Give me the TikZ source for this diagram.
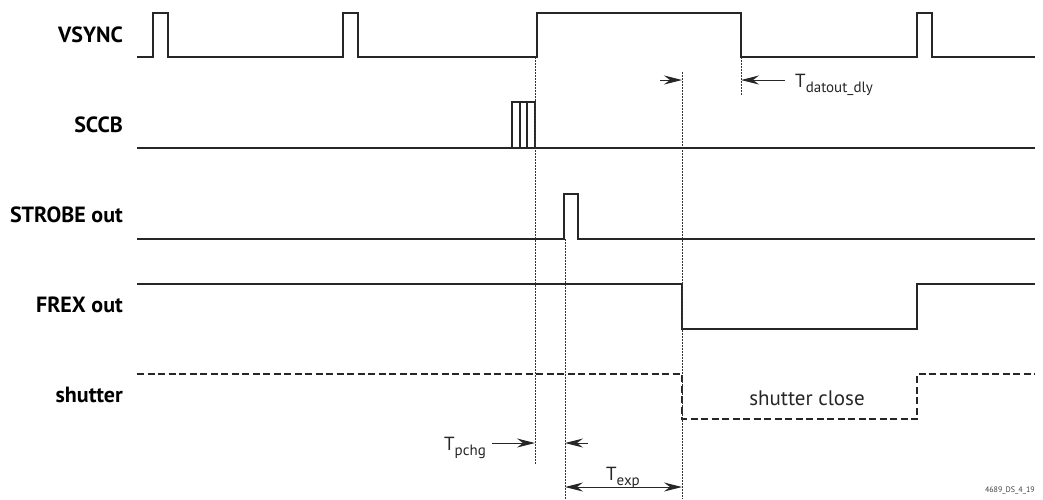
\documentclass[tikz,border=0pt]{standalone}
\usepackage{fontspec}
\setmainfont{PT Sans}
\usetikzlibrary{positioning,arrows.meta}
\newcommand\tsub[1]{\raisebox{-0.3em}{\fontsize{15}{15}\selectfont#1}}
\begin{document}
\begin{tikzpicture}[x=1pt,y=-1pt,
  lbl/.style={font=\fontsize{22}{24}\selectfont\bfseries,anchor=east,inner sep=0pt,text height=15pt,text depth=0pt},
  tlbl/.style={font=\fontsize{19}{21}\selectfont,inner sep=0pt,text=black!85},
  sig/.style={line width=1.6pt,black!85},
  guide/.style={line width=0.7pt,dash pattern=on 1.5pt off 1.5pt,black!80},
  tarr/.style={-{Stealth[length=18pt,width=9pt,inset=6pt]},line width=1pt,black!85},
  tarrs/.style={{Stealth[length=18pt,width=9pt,inset=6pt]}-{Stealth[length=18pt,width=9pt,inset=6pt]},line width=1pt,black!85}]
\useasboundingbox (0,0) rectangle (1043,499);

\node[lbl] at (123,35) (vsync) {VSYNC};
\node[lbl,below=90pt of vsync.east,anchor=east] (sccb) {SCCB};
\node[lbl,below=90pt of sccb.east,anchor=east] (strobe) {STROBE out};
\node[lbl,below=90pt of strobe.east,anchor=east] (frex) {FREX out};
\node[lbl,below=90pt of frex.east,anchor=east] (shutter) {shutter};

\draw[sig] (137,57) -- (153,57) -- (153,13) -- (168,13) -- (168,57) -- (343,57) -- (343,13) -- (358,13) -- (358,57)
  -- (537,57) -- (537,13) -- (741,13) -- (741,57) -- (917,57) -- (917,13) -- (932,13) -- (932,57) -- (1035,57);
\draw[sig] (137,148) -- (1035,148);
\draw[line width=1.2pt,black!85] (512,148) -- (512,102) -- (535,102) -- (535,148) (520,102) -- (520,148) (527,102) -- (527,148);
\draw[sig] (137,239) -- (564,239) -- (564,194) -- (578,194) -- (578,239) -- (1035,239);
\draw[sig] (137,284) -- (682,284) -- (682,329) -- (917,329) -- (917,284) -- (1035,284);
\draw[sig,dash pattern=on 7pt off 3.5pt] (137,374) -- (682,374) -- (682,419) -- (917,419) -- (917,374) -- (1035,374);

\node[tlbl,font=\fontsize{21}{23}\selectfont] (close) at (807,398) {shutter close};

\draw[guide] (535,57) -- (535,465);
\draw[guide] (565,239) -- (565,499);
\draw[guide] (682,72) -- (682,499);
\draw[guide] (741,57) -- (741,96);

\coordinate (dlyR) at (741,80);
\coordinate (expR) at (682,80);
\coordinate (pchgR) at (535,443);
\coordinate (strbL) at (565,443);
\node[tlbl,anchor=base west] (tdly) at (795,87) {T\tsub{datout\_dly}};
\node[tlbl,anchor=base east] (tpchg) at (486,450) {T\tsub{pchg}};
\node[tlbl,anchor=base] (texp) at (623,480) {T\tsub{exp}};
\coordinate (expA) at (565,487);
\coordinate (expB) at (682,487);

\draw[tarr] (660,80) -- (expR);
\draw[tarr] (tdly.west |- dlyR) ++(-10,0) -- (dlyR);
\draw[tarr] (tpchg.east |- pchgR) ++(6,0) -- (pchgR);
\draw[tarr] (588,443) -- (strbL);
\draw[tarrs] (expA) -- (expB);

\node[font=\fontsize{8}{9}\selectfont,text=black!75,anchor=base east,inner sep=0pt] (tag) at (1035,492) {4689\_DS\_4\_19};
\end{tikzpicture}
\end{document}
